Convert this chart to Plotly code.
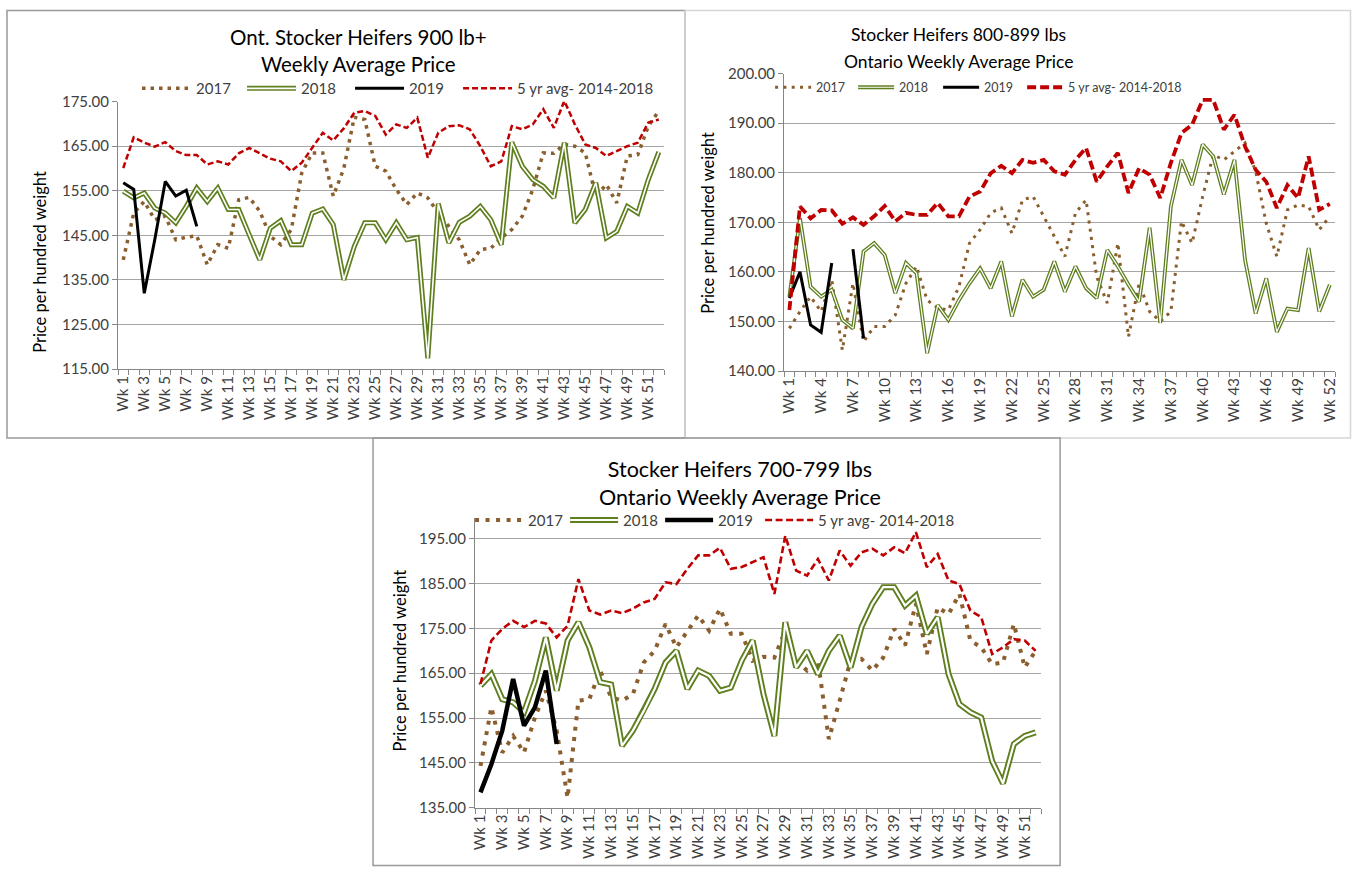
import plotly.graph_objects as go

W, H = 1354, 874
FONT = "Lato"
AX = "#868686"
GRID = "#A6A6A6"
TXT = "#404040"
C17 = "#8B5E2E"
C18 = "#5F7F1F"
C19 = "#000000"
CAVG = "#C00000"

weeks = [f"Wk {i}" for i in range(1, 53)]
week_num = list(range(1, 53))

# ---- Chart 1: Ont. Stocker Heifers 900 lb+ ----
c1_2017 = [139.5, 150.0, 152.6, 148.5, 149.3, 144.0, 144.6, 144.9, 138.4, 142.9, 142.1, 153.0, 153.5,
           150.4, 144.8, 142.9, 146.3, 159.0, 163.5, 163.5, 153.8, 160.0, 171.5, 171.0, 160.5, 159.4,
           155.3, 151.9, 154.5, 153.4, 150.0, 147.0, 144.0, 138.4, 141.8, 142.1, 144.4, 146.3, 149.3,
           155.3, 163.5, 163.4, 165.4, 165.0, 163.5, 153.8, 156.4, 152.3, 162.8, 163.1, 169.5, 172.9]
c1_2018 = [154.9, 153.4, 154.5, 151.1, 150.0, 147.8, 151.5, 155.6, 152.6, 155.6, 150.8, 150.8, 145.1,
           139.5, 146.6, 148.3, 142.9, 142.9, 150.0, 150.9, 147.4, 135.0, 142.5, 147.8, 147.8, 144.0,
           147.8, 144.0, 144.5, 117.4, 152.1, 143.3, 147.9, 149.3, 151.5, 148.5, 142.9, 165.9, 160.5,
           157.5, 156.0, 153.4, 165.8, 147.8, 150.8, 156.8, 144.4, 145.9, 151.5, 150.0, 157.5, 163.7]
c1_2019 = [156.8, 155.3, 132.0, 144.0, 157.1, 153.8, 155.1, 147.0]
c1_avg = [160.1, 167.0, 165.8, 164.9, 165.9, 163.9, 163.0, 163.0, 160.9, 161.6, 160.9, 163.4, 164.6,
          163.4, 162.2, 161.6, 159.4, 161.3, 164.6, 168.0, 166.3, 169.0, 172.5, 172.9, 171.8, 167.6,
          169.9, 169.1, 171.4, 162.4, 168.0, 169.5, 169.7, 168.8, 165.0, 160.5, 161.6, 169.5, 168.8,
          169.9, 173.3, 169.1, 175.2, 169.9, 165.4, 164.6, 162.8, 163.9, 165.0, 165.8, 170.3, 171.0]

# ---- Chart 2: Stocker Heifers 800-899 lbs ----
c2_2017 = [148.6, 152.0, 155.0, 152.0, 158.4, 144.2, 157.7, 145.9, 149.0, 149.0, 151.3, 157.7, 161.1,
           154.3, 152.7, 152.3, 157.0, 165.8, 168.5, 171.9, 172.9, 167.8, 174.5, 175.2, 171.2, 167.1,
           163.1, 171.9, 174.5, 159.0, 153.7, 165.8, 146.9, 157.7, 152.0, 150.0, 152.0, 170.2, 165.8,
           175.2, 183.6, 182.6, 184.3, 186.0, 180.3, 169.8, 163.1, 172.5, 173.5, 173.2, 168.5, 171.2]
c2_2018 = [155.0, 170.8, 157.0, 155.0, 156.4, 150.3, 148.6, 164.1, 165.8, 163.4, 155.7, 161.8, 159.7,
           143.6, 153.3, 150.3, 154.3, 157.7, 160.7, 156.7, 162.1, 151.0, 158.4, 155.0, 156.4, 162.1,
           156.0, 161.1, 156.7, 154.7, 164.4, 161.1, 157.4, 154.0, 168.9, 149.7, 173.2, 182.6, 177.5,
           185.7, 183.3, 175.6, 182.6, 162.4, 151.6, 158.7, 147.9, 152.6, 152.3, 164.8, 152.0, 157.4]
c2_2019 = [154.7, 160.0, 149.3, 147.8, 161.8, None, 164.6, 146.6]
c2_avg = [152.3, 173.2, 170.8, 172.5, 172.4, 169.7, 171.0, 169.5, 171.2, 173.3, 170.2, 171.9, 171.5,
          171.5, 173.9, 171.2, 171.2, 175.2, 176.2, 179.9, 181.4, 179.9, 182.6, 182.0, 182.6, 180.3,
          179.6, 182.6, 185.0, 178.2, 181.3, 184.0, 175.9, 180.9, 179.6, 174.9, 182.0, 188.0, 189.7,
          194.7, 194.7, 188.7, 191.7, 185.3, 180.6, 178.2, 172.9, 177.5, 174.9, 183.3, 172.5, 173.7]

# ---- Chart 3: Stocker Heifers 700-799 lbs ----
c3_2017 = [144.3, 157.4, 147.3, 151.0, 147.3, 155.1, 161.1, 152.2, 137.2, 158.9, 159.2, 165.6, 159.6,
           158.9, 160.3, 167.4, 170.0, 176.0, 170.8, 174.5, 177.9, 174.5, 179.4, 173.8, 173.8, 167.8,
           168.7, 168.5, 174.5, 167.8, 165.6, 167.8, 150.3, 158.9, 167.8, 168.2, 165.6, 168.5, 174.9,
           171.2, 180.5, 169.3, 179.7, 178.2, 182.7, 172.3, 170.8, 167.0, 167.4, 176.0, 166.3, 170.0]
c3_2018 = [162.2, 164.8, 159.2, 158.5, 156.3, 163.3, 173.0, 161.1, 172.3, 176.4, 170.8, 163.0, 162.5,
           148.8, 152.2, 156.6, 161.5, 167.4, 170.0, 161.5, 165.6, 164.4, 161.1, 161.8, 167.8, 172.3,
           160.3, 151.0, 176.4, 166.3, 170.0, 164.8, 170.0, 173.4, 166.3, 175.3, 180.5, 184.2, 184.2,
           180.1, 182.3, 173.8, 177.5, 164.8, 158.1, 156.3, 155.1, 145.4, 140.4, 149.2, 151.0, 151.8]
c3_2019 = [138.4, 144.7, 152.2, 163.7, 153.3, 157.4, 165.6, 149.2]
c3_avg = [162.6, 172.3, 174.9, 176.7, 175.3, 176.7, 176.1, 173.0, 175.6, 186.0, 179.0, 178.1, 179.0,
          178.4, 179.4, 180.8, 181.6, 185.3, 184.9, 188.3, 191.3, 191.3, 193.0, 188.3, 188.7, 189.8,
          190.9, 182.7, 195.7, 187.9, 186.8, 190.5, 185.7, 192.4, 189.0, 192.0, 192.8, 191.3, 193.1,
          191.8, 196.5, 188.7, 191.6, 185.7, 184.9, 179.0, 177.5, 169.3, 170.8, 172.6, 172.3, 170.0]

names = ["2017", "2018", "2019", "5 yr avg- 2014-2018"]

charts = [
    dict(data=[c1_2017, c1_2018, c1_2019, c1_avg], xa="x", ya="y",
         dot=("3.5px,5px", 3.5), green=(5, 1.6), black=3, red=("6px,3px", 2.5),
         leg_x=[142, 247, 355, 463], leg_y=89, leg_w=49, leg_fs=15),
    dict(data=[c2_2017, c2_2018, c2_2019, c2_avg], xa="x2", ya="y2",
         dot=("3px,5.3px", 3), green=(3.8, 1.2), black=3, red=("9px,4px", 3.8),
         leg_x=[775, 858, 943, 1027], leg_y=88, leg_w=36, leg_fs=12.5),
    dict(data=[c3_2017, c3_2018, c3_2019, c3_avg], xa="x3", ya="y3",
         dot=("4px,6.5px", 4), green=(6, 2.2), black=4.5, red=("7px,3.5px", 2.6),
         leg_x=[475, 570, 665, 765], leg_y=520, leg_w=48, leg_fs=15),
]

# screen-pixel -> page-pixel correction (the photograph shows the page slightly inset)
SX, OX = 0.994, 5.0
SY, OY = 0.978, 10.5


def page_x(v):
    return min(max((v - OX) / SX, 0.5), W - 0.5)


def page_y(v):
    return min(max((v - OY) / SY, 0.5), H - 0.5)


def px_x(v):
    return page_x(v) / W


def px_y(v):
    return 1 - page_y(v) / H


def make_legend(ch, j, font_color=TXT):
    return dict(x=(page_x(ch["leg_x"][j]) - 5) / W, y=px_y(ch["leg_y"]),
                xanchor="left", yanchor="middle", orientation="h",
                bgcolor="rgba(0,0,0,0)", borderwidth=0, itemwidth=ch["leg_w"],
                visible=True, font=dict(family=FONT, size=ch["leg_fs"], color=font_color))


fig = go.Figure()
legends = {}
n_leg = 0
overlay_legs = []
for ch in charts:
    leg_ids = []
    for j in range(4):
        n_leg += 1
        lid = "legend" if n_leg == 1 else f"legend{n_leg}"
        leg_ids.append(lid)
        legends[lid] = make_legend(ch, j)
    overlay_legs.append(leg_ids)

# white inner-line legends (drawn after the others so the 2018 key looks like a double line)
inner_ids = []
for ch in charts:
    n_leg += 1
    lid = f"legend{n_leg}"
    inner_ids.append(lid)
    legends[lid] = make_legend(ch, 1, "rgba(0,0,0,0)")

for ch, leg_ids, inner_id in zip(charts, overlay_legs, inner_ids):
    d17, d18, d19, davg = ch["data"]
    common = dict(xaxis=ch["xa"], yaxis=ch["ya"], mode="lines", hoverinfo="skip")
    fig.add_trace(go.Scatter(x=week_num, y=d17, name=names[0], legend=leg_ids[0], showlegend=True,
                             line=dict(color=C17, width=ch["dot"][1], dash=ch["dot"][0]), **common))
    fig.add_trace(go.Scatter(x=week_num, y=d18, name=names[1], legend=leg_ids[1], showlegend=True,
                             line=dict(color=C18, width=ch["green"][0]), **common))
    fig.add_trace(go.Scatter(x=week_num, y=d18, name=" ", legend=inner_id, showlegend=True,
                             line=dict(color="white", width=ch["green"][1]), **common))
    fig.add_trace(go.Scatter(x=week_num[:len(d19)], y=d19, name=names[2], legend=leg_ids[2],
                             showlegend=True, line=dict(color=C19, width=ch["black"]), **common))
    fig.add_trace(go.Scatter(x=week_num, y=davg, name=names[3], legend=leg_ids[3], showlegend=True,
                             line=dict(color=CAVG, width=ch["red"][1], dash=ch["red"][0]), **common))


def xaxis(x0, x1, anchor, step, fs):
    return dict(domain=[px_x(x0), px_x(x1)], anchor=anchor, range=[0.5, 52.5],
                tickmode="array", tickvals=week_num[::step], ticktext=weeks[::step],
                tickangle=-90, ticks="", showline=True, linecolor=AX, linewidth=1,
                showgrid=False, zeroline=False,
                minor=dict(ticks="outside", tick0=0.5, dtick=1, ticklen=5, tickcolor=AX,
                           showgrid=False),
                tickfont=dict(family=FONT, size=fs, color=TXT), fixedrange=True)


def yaxis(y0, y1, anchor, rng, tick0, fs):
    return dict(domain=[px_y(y1), px_y(y0)], anchor=anchor, range=rng, tickmode="linear",
                tick0=tick0, dtick=10, tickformat=".2f", showgrid=True, gridcolor=GRID,
                gridwidth=1, ticks="outside", ticklen=5, tickcolor=AX, showline=True,
                linecolor=AX, zeroline=False,
                tickfont=dict(family=FONT, size=fs, color=TXT), fixedrange=True)


def title(text, x, y, fs):
    return dict(text=text, x=px_x(x), y=px_y(y), xref="paper", yref="paper", showarrow=False,
                xanchor="center", yanchor="middle", font=dict(family=FONT, size=fs, color="#000000"))


def ytitle(x, y):
    return dict(text="Price per hundred weight", x=px_x(x), y=px_y(y), xref="paper",
                yref="paper", showarrow=False, textangle=-90, xanchor="center",
                yanchor="middle", font=dict(family=FONT, size=16.5, color="#000000"))


def frame(x0, y0, x1, y1, color):
    return dict(type="rect", xref="paper", yref="paper", x0=px_x(x0), x1=px_x(x1),
                y0=px_y(y1), y1=px_y(y0), line=dict(color=color, width=1.5), layer="below")


fig.update_layout(
    width=W, height=H, margin=dict(l=0, r=0, t=0, b=0),
    paper_bgcolor="white", plot_bgcolor="white", showlegend=True,
    font=dict(family=FONT, color=TXT),
    xaxis=xaxis(118, 664, "y", 2, 15),
    yaxis=yaxis(102, 369, "x", [115, 175], 115, 15),
    xaxis2=xaxis(784, 1335, "y2", 3, 15),
    yaxis2=yaxis(74, 371, "x2", [140, 200], 140, 15),
    xaxis3=xaxis(475, 1041, "y3", 2, 15),
    yaxis3=yaxis(518, 807, "x3", [135, 199.6], 135, 15),
    shapes=[
        frame(7, 5, 685, 438, "#999999"),
        frame(685, 5, 1353, 438, "#D6D6D6"),
        frame(373, 438, 1060, 873, "#999999"),
    ],
    annotations=[
        title("Ont. Stocker Heifers 900 lb+<br>Weekly Average Price", 358, 51, 20.5),
        title("Stocker Heifers 800-899 lbs", 958, 35, 17.5),
        title("Ontario Weekly Average Price", 958, 62, 17.5),
        title("Stocker Heifers 700-799 lbs<br>Ontario Weekly Average Price", 740, 483, 21.5),
        ytitle(40, 262),
        ytitle(708, 223),
        ytitle(400, 660),
    ],
    **legends,
)

fig.write_html(
    "out.html",
    config={"displayModeBar": False, "staticPlot": True},
    post_script=("var d=document.getElementById('{plot_id}');"
                 "d.style.position='fixed';d.style.left='0px';d.style.top='0px';"
                 "document.body.style.margin='0px';document.body.style.padding='0px';"
                 "document.documentElement.style.overflow='hidden';"
                 "document.body.style.overflow='hidden';"),
)
